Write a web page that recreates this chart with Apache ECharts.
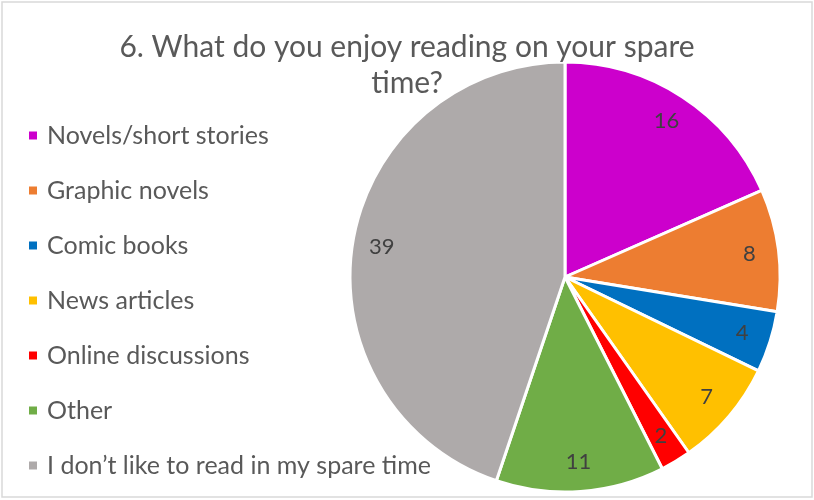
<!DOCTYPE html>
<html>
<head>
<meta charset="utf-8">
<script src="https://cdn.jsdelivr.net/npm/echarts@6/dist/echarts.min.js"></script>
<style>
  html, body { margin: 0; padding: 0; background: #fff; }
  #chart { width: 814px; height: 500px; }
</style>
</head>
<body>
<div id="chart"></div>
<script>
// Survey answers for question 6
const categories = [
  'Novels/short stories',
  'Graphic novels',
  'Comic books',
  'News articles',
  'Online discussions',
  'Other',
  'I don\u2019t like to read in my spare time'
];
const counts = [16, 8, 4, 7, 2, 11, 39];
const colors = ['#CC00CC', '#ED7D31', '#0070C0', '#FFC000', '#FF0000', '#70AD47', '#AEAAAA'];

const FONT = 'Lato, "Noto Sans", sans-serif';
const R = 215;

const sliceData = categories.map((name, i) => ({
  name,
  value: counts[i],
  itemStyle: { color: colors[i] }
}));

const chart = echarts.init(document.getElementById('chart'));
chart.setOption({
  animation: false,
  backgroundColor: '#fff',
  title: {
    text: '6. What do you enjoy reading on your spare\ntime?',
    left: 'center',
    top: 29,
    padding: 0,
    textStyle: {
      fontFamily: FONT,
      fontSize: 30,
      fontWeight: 'normal',
      color: '#595959',
      lineHeight: 36
    }
  },
  legend: {
    orient: 'vertical',
    left: 27,
    top: 123,
    padding: 0,
    itemWidth: 10,
    itemHeight: 10,
    itemGap: 30,
    icon: 'rect',
    data: categories,
    textStyle: {
      fontFamily: FONT,
      fontSize: 25,
      color: '#595959',
      lineHeight: 25,
      padding: [0, 0, 0, 4]
    }
  },
  graphic: [{
    type: 'rect',
    shape: { x: 2, y: 2, width: 810, height: 495 },
    style: { fill: 'none', stroke: '#d9d9d9', lineWidth: 1.5 },
    silent: true
  }],
  series: [
    {
      type: 'pie',
      center: [565, 277],
      radius: [0, R],
      startAngle: 90,
      clockwise: true,
      avoidLabelOverlap: false,
      label: { show: false },
      labelLine: { show: false },
      itemStyle: { borderColor: '#fff', borderWidth: 3 },
      emphasis: { disabled: true },
      data: sliceData
    },
    {
      // transparent outer ring: carries the value labels near the rim
      type: 'pie',
      center: [565, 277],
      radius: [R * 0.7, R],
      startAngle: 90,
      clockwise: true,
      silent: true,
      avoidLabelOverlap: false,
      label: {
        show: true,
        position: 'inside',
        formatter: '{c}',
        fontFamily: FONT,
        fontSize: 22,
        color: '#404040'
      },
      labelLine: { show: false },
      itemStyle: { color: 'rgba(0,0,0,0)' },
      emphasis: { disabled: true },
      data: categories.map((name, i) => ({ name, value: counts[i] }))
    }
  ]
});
</script>
</body>
</html>
